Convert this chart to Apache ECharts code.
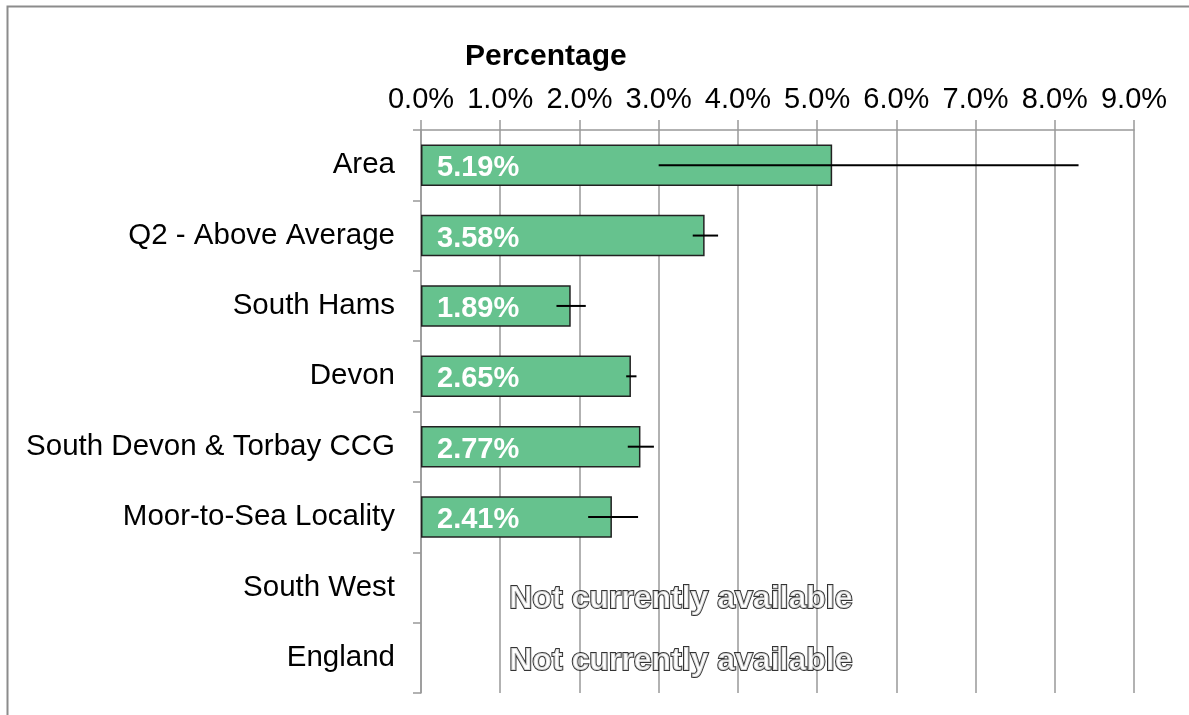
<!DOCTYPE html>
<html>
<head>
<meta charset="utf-8">
<script src="https://cdn.jsdelivr.net/npm/echarts@6/dist/echarts.min.js"></script>
<style>
html,body{margin:0;padding:0;background:#fff;}
#chart{width:1189px;height:715px;}
</style>
</head>
<body>
<div id="chart"></div>
<script>
const categories = ['Area', 'Q2 - Above Average', 'South Hams', 'Devon', 'South Devon & Torbay CCG', 'Moor-to-Sea Locality', 'South West', 'England'];
const values = [5.19, 3.58, 1.89, 2.65, 2.77, 2.41, null, null];
const lowerCI = [3.00, 3.43, 1.71, 2.59, 2.61, 2.11, null, null];
const upperCI = [8.30, 3.75, 2.08, 2.72, 2.94, 2.74, null, null];
const naCategories = ['South West', 'England'];
const naText = 'Not currently available';
const xTicks = [0, 1, 2, 3, 4, 5, 6, 7, 8, 9];

const FONT = 'Liberation Sans, Arial, sans-serif';
const chart = echarts.init(document.getElementById('chart'));

const errData = categories.map((c, i) => [i, lowerCI[i], upperCI[i]]).filter(d => d[1] != null);

chart.setOption({
  animation: false,
  backgroundColor: '#fff',
  title: {
    text: 'Percentage', left: 465, top: 42, padding: 0,
    textStyle: {fontFamily: FONT, fontSize: 30, fontWeight: 'bold', color: '#000'}
  },
  graphic: [{
    type: 'rect', shape: {x: 7.5, y: 6.5, width: 1400, height: 900},
    style: {fill: null, stroke: '#8c8c8c', lineWidth: 2}, silent: true, z: -1
  }],
  grid: {left: 421, right: 55, top: 130, bottom: 22, containLabel: false},
  xAxis: {
    type: 'value', position: 'top', min: xTicks[0], max: xTicks[xTicks.length - 1], interval: 1,
    axisLine: {show: true, lineStyle: {color: '#999', width: 1.5}},
    axisTick: {show: true, length: 10, lineStyle: {color: '#999', width: 1.5}},
    splitLine: {show: true, lineStyle: {color: '#999', width: 1.5}},
    axisLabel: {
      margin: 16, fontFamily: FONT, fontSize: 29, color: '#000',
      formatter: v => v.toFixed(1) + '%'
    }
  },
  yAxis: {
    type: 'category', data: categories, inverse: true,
    axisLine: {show: true, lineStyle: {color: '#999', width: 1.5}},
    axisTick: {show: true, length: 8, lineStyle: {color: '#999', width: 1.5}},
    axisLabel: {margin: 26, fontFamily: FONT, fontSize: 29.5, color: '#000', padding: [10, 0, 0, 0]}
  },
  series: [{
    type: 'bar', data: values, barCategoryGap: '41%',
    itemStyle: {color: '#66c28e', borderColor: '#222', borderWidth: 1.5},
    label: {
      show: true, position: 'insideLeft', distance: 16, offset: [0, 3],
      fontFamily: FONT, fontSize: 29, fontWeight: 'bold', color: '#fff',
      formatter: p => p.value == null ? '' : p.value.toFixed(2) + '%'
    },
    z: 2
  }, {
    type: 'custom', data: errData, z: 5,
    renderItem: (params, api) => {
      const a = api.coord([api.value(1), api.value(0)]);
      const b = api.coord([api.value(2), api.value(0)]);
      return {type: 'line', shape: {x1: a[0], y1: a[1], x2: b[0], y2: b[1]},
        style: {stroke: '#000', lineWidth: 2}};
    }
  }, {
    type: 'scatter', symbolSize: 0, z: 6,
    data: naCategories.map((c, i) => ({value: [3.28, c], label: {offset: [0, i === 0 ? 12 : 3]}})),
    label: {
      show: true, position: 'inside', formatter: naText,
      fontFamily: FONT, fontSize: 32, fontWeight: 'bold', color: '#fff',
      textBorderColor: '#000', textBorderWidth: 2
    }
  }]
});
</script>
</body>
</html>
